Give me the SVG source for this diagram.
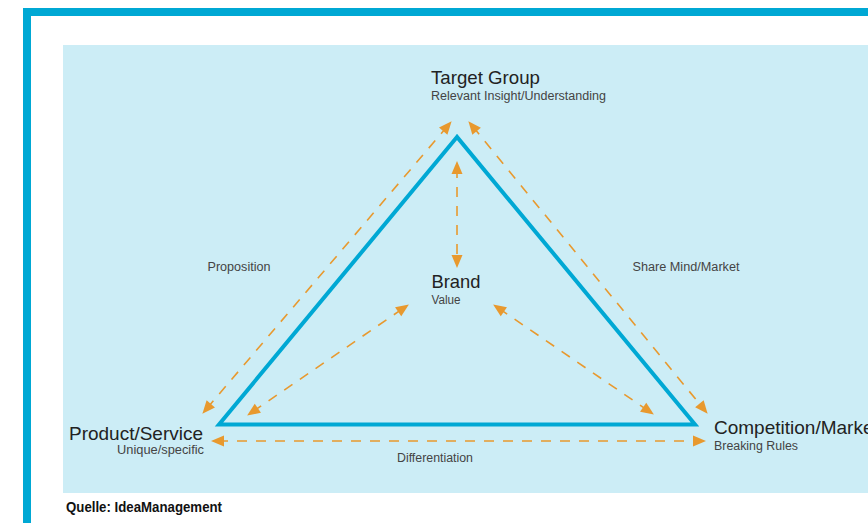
<svg xmlns="http://www.w3.org/2000/svg" width="868" height="523" viewBox="0 0 868 523">
<defs>
<style>
.title{font-family:"Liberation Sans",Arial,sans-serif;font-size:19px;fill:#222;}
.sub{font-family:"Liberation Sans",Arial,sans-serif;font-size:12px;fill:#444;}
.lbl{font-family:"Liberation Sans",Arial,sans-serif;font-size:12px;fill:#444;}
.src{font-family:"Liberation Sans Narrow","Liberation Sans",Arial,sans-serif;font-size:15px;font-weight:bold;fill:#111;}
.dash{fill:none;stroke:#E8992E;stroke-width:1.6;stroke-dasharray:10 9;marker-start:url(#ah);marker-end:url(#ah);}
</style>
<marker id="ah" markerUnits="userSpaceOnUse" markerWidth="16" markerHeight="14" refX="0" refY="0" viewBox="-7 -7 16 14" orient="auto-start-reverse">
<path d="M7,0 L-6,-5.5 L-6,5.5 Z" fill="#E8992E"/>
</marker>
</defs>
<rect x="0" y="0" width="868" height="523" fill="#fff"/>
<rect x="27" y="12" width="900" height="600" fill="none" stroke="#00A8D4" stroke-width="8"/>
<rect x="63" y="45" width="805" height="448" fill="#CCEDF6"/>
<g id="triangle">
<polygon points="457,137 219,424.5 695,424.5" fill="none" stroke="#00A8D4" stroke-width="4" stroke-linejoin="miter" stroke-miterlimit="10"/>
</g>
<g id="connectors">
<line class="dash" x1="206.9" y1="408.4" x2="447.1" y2="126.6"/>
<line class="dash" x1="472.8" y1="126.6" x2="703.2" y2="408.4"/>
<line class="dash" x1="457" y1="168" x2="457" y2="261"/>
<line class="dash" x1="252.9" y1="411.6" x2="403.1" y2="308.4"/>
<line class="dash" x1="498.9" y1="308.4" x2="648.1" y2="410.6"/>
<line class="dash" x1="218" y1="441" x2="699" y2="441"/>
</g>
<g id="target-group">
<text class="title" x="431" y="84" textLength="109" lengthAdjust="spacingAndGlyphs">Target Group</text>
<text class="sub" x="431" y="100" textLength="175" lengthAdjust="spacingAndGlyphs">Relevant Insight/Understanding</text>
</g>
<g id="brand">
<text class="title" x="431.5" y="287.5" textLength="49" lengthAdjust="spacingAndGlyphs">Brand</text>
<text class="sub" x="431.5" y="303.5" textLength="29" lengthAdjust="spacingAndGlyphs">Value</text>
</g>
<g id="product-service">
<text class="title" x="69" y="439.5" textLength="134" lengthAdjust="spacingAndGlyphs">Product/Service</text>
<text class="sub" x="117" y="453.5" textLength="87" lengthAdjust="spacingAndGlyphs">Unique/specific</text>
</g>
<g id="competition-market">
<text class="title" x="714" y="433.5">Competition/Market</text>
<text class="sub" x="714" y="449.5" textLength="84" lengthAdjust="spacingAndGlyphs">Breaking Rules</text>
</g>
<g id="labels">
<text class="lbl" x="207.5" y="271" textLength="63" lengthAdjust="spacingAndGlyphs">Proposition</text>
<text class="lbl" x="632.5" y="271" textLength="107" lengthAdjust="spacingAndGlyphs">Share Mind/Market</text>
<text class="lbl" x="397" y="462" textLength="76" lengthAdjust="spacingAndGlyphs">Differentiation</text>
</g>
<text class="src" x="66" y="511.5" textLength="156" lengthAdjust="spacingAndGlyphs">Quelle: IdeaManagement</text>
</svg>
